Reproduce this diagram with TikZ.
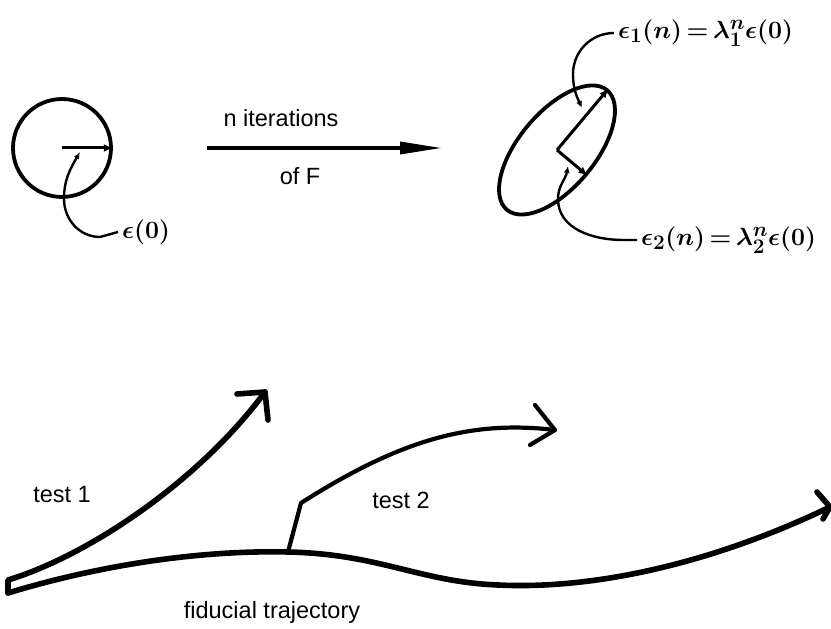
\documentclass[tikz,border=0pt]{standalone}
\usepackage{fontspec}
\setmainfont{Liberation Sans}
\usepackage{tikz}
\usetikzlibrary{arrows.meta,shapes.geometric,calc}
\tikzset{
  heavy/.style={line width=5.6pt, line cap=round, line join=round},
  medium/.style={line width=4.2pt, line cap=round, line join=round},
  outline/.style={draw, line width=3.8pt, inner sep=0pt},
  vec/.style={line width=3pt, -{Latex[length=9pt,width=8pt]}},
  leader/.style={line width=2.4pt, -{Latex[length=7pt,width=6pt]}},
  maparrow/.style={line width=3.5pt, -{Triangle[length=42pt,width=12pt]}},
  txt/.style={font=\fontsize{23.5}{27}\selectfont, inner sep=0pt},
  mathtxt/.style={font=\fontsize{29}{33}\selectfont\boldmath, inner sep=0pt},
}
\begin{document}
\begin{tikzpicture}[x=1pt,y=1pt]
  \useasboundingbox (0,0) rectangle (831,629);

  \node[outline, circle, minimum size=98pt] (disc) at (62,481) {};
  \node[outline, ellipse, rotate=50, minimum width=156pt, minimum height=76pt] (blob) at (557,479) {};
  \draw[vec] (disc.center) -- (disc.east);
  \draw[vec] (blob.center) -- (blob.east);
  \draw[vec] (blob.center) -- (blob.south);

  \coordinate (mapL) at (207,481);
  \coordinate (mapR) at (442,481);
  \draw[maparrow] (mapL) -- (mapR);
  \node[txt] (iter) at (281,511) {n iterations};
  \node[txt] (ofF)  at (300,453) {of F};

  \node[mathtxt, anchor=west] (e0) at (122,397) {$\epsilon(0)$};
  \node[mathtxt, anchor=west] (e1) at (618,596) {$\epsilon_1(n)\,{=}\,\lambda_1^n\epsilon(0)$};
  \node[mathtxt, anchor=west] (e2) at (641,389) {$\epsilon_2(n)\,{=}\,\lambda_2^n\epsilon(0)$};
  \draw[leader] ([xshift=-4pt]e0.west) -- (100,392) to[out=180,in=-90] (64,430) to[out=90,in=-120] (80,477);
  \draw[leader] ([xshift=-4pt]e1.west) to[out=180,in=90] (573,555) to[out=-90,in=115] (582,521);
  \draw[leader] ([xshift=-4pt]e2.west) -- (623,389) to[out=180,in=-90] (558,430) to[out=90,in=-100] (568,463);

  \coordinate (capT)  at (8,49);
  \coordinate (capB)  at (8,36);
  \coordinate (crest) at (288,77);
  \coordinate (kink)  at (301,126);
  \coordinate (tip1)  at (265,237);
  \coordinate (tip2)  at (555,199);
  \coordinate (tip3)  at (830,122);
  \draw[heavy] (capB) -- (capT) .. controls (90,74) and (200,149) .. (tip1);
  \draw[heavy] ([shift={(-28,-2)}]tip1) -- (tip1) -- ([shift={(3,-28)}]tip1);
  \draw[heavy] (capB) .. controls (100,64) and (200,79) .. (crest)
    .. controls (380,75) and (420,47) .. (498,44)
    .. controls (600,39) and (720,69) .. (tip3);
  \draw[heavy] ([shift={(-13,15)}]tip3) -- (tip3) -- ([shift={(-7,-12)}]tip3);
  \draw[medium] (crest) -- (kink) .. controls (400,189) and (470,209) .. (tip2);
  \draw[medium] ([shift={(-20,25)}]tip2) -- (tip2) -- ([shift={(-25,-15)}]tip2);

  \node[txt] (t1)  at (62,134) {test 1};
  \node[txt] (t2)  at (401,129) {test 2};
  \node[txt] (fid) at (272,17) {fiducial trajectory};
\end{tikzpicture}
\end{document}
